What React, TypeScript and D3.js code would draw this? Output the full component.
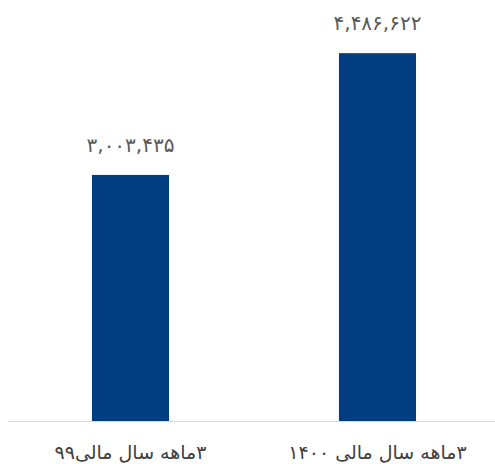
import React, { useRef, useEffect } from "react";
import * as d3 from "d3";

const categories = ["۳ماهه سال مالی۹۹", "۳ماهه سال مالی ۱۴۰۰"];
const values = [3003435, 4486622];
const valueLabels = ["۳,۰۰۳,۴۳۵", "۴,۴۸۶,۶۲۲"];

export default function App() {
  const svgRef = useRef<SVGSVGElement>(null);

  useEffect(() => {
    const width = 495;
    const height = 464;
    const svg = d3.select(svgRef.current);
    svg.selectAll("*").remove();
    svg.attr("width", width).attr("height", height);

    const baseY = 421.5;

    const x = d3.scaleBand<number>()
      .domain(d3.range(categories.length))
      .range([8, 500])
      .paddingInner(0.688)
      .paddingOuter(0.34);

    const y = d3.scaleLinear()
      .domain([0, 5000000])
      .range([baseY, 11]);

    // bars
    svg.append("g")
      .selectAll("rect")
      .data(values)
      .enter()
      .append("rect")
      .attr("x", (d, i) => x(i)!)
      .attr("y", d => y(d))
      .attr("width", x.bandwidth())
      .attr("height", d => baseY - y(d))
      .style("fill", "#023d82");

    // baseline
    svg.append("line")
      .attr("x1", 8)
      .attr("x2", 495)
      .attr("y1", baseY)
      .attr("y2", baseY)
      .style("stroke", "#d9d9d9")
      .style("stroke-width", 1);

    // value labels
    svg.append("g")
      .selectAll("text")
      .data(values)
      .enter()
      .append("text")
      .attr("x", (d, i) => x(i)! + x.bandwidth() / 2)
      .attr("y", d => y(d) - 23)
      .attr("text-anchor", "middle")
      .style("font-family", "DejaVu Sans")
      .style("font-size", "20px")
      .style("fill", "#595959")
      .text((d, i) => valueLabels[i]);

    // category labels
    svg.append("g")
      .selectAll("text")
      .data(categories)
      .enter()
      .append("text")
      .attr("x", (d, i) => x(i)! + x.bandwidth() / 2)
      .attr("y", 459)
      .attr("text-anchor", "middle")
      .attr("direction", "rtl")
      .style("font-family", "DejaVu Sans")
      .style("font-size", "19px")
      .style("fill", "#404040")
      .text(d => d);
  }, []);

  return <svg ref={svgRef} style={{ position: "absolute", left: 0, top: 0 }}></svg>;
}
